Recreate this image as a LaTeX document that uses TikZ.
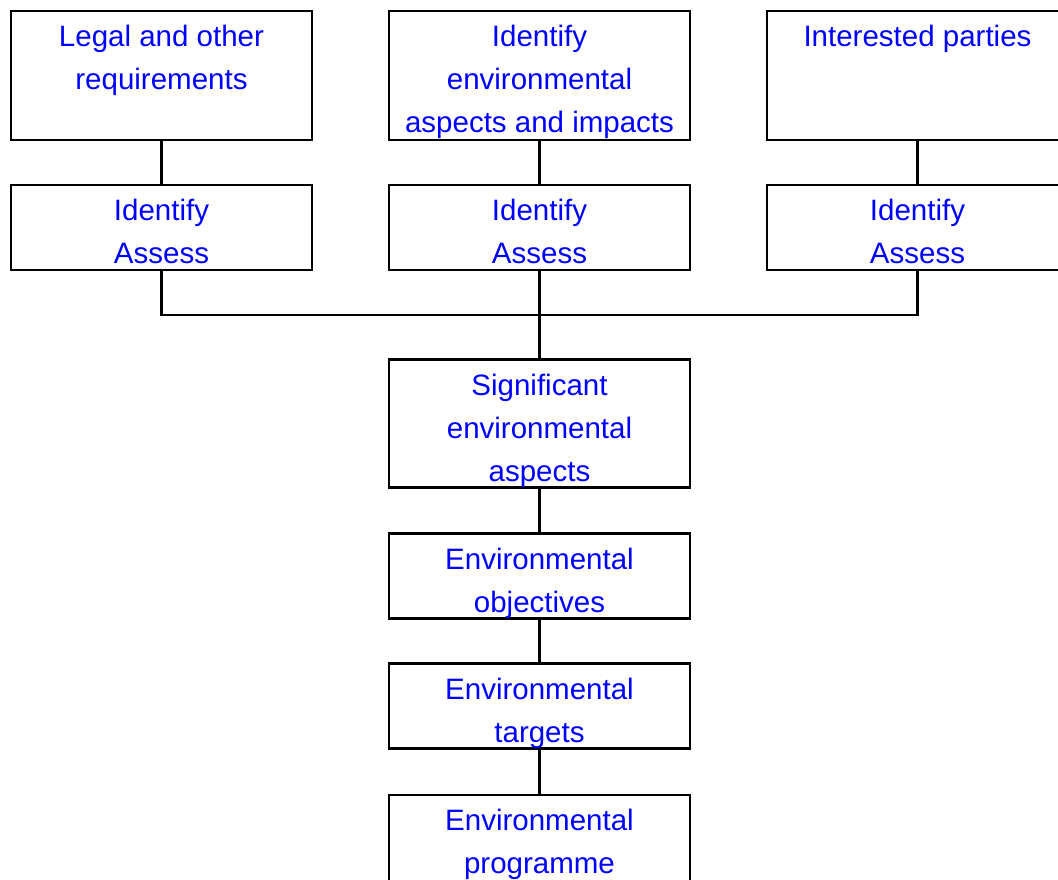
\documentclass[tikz,border=0pt]{standalone}
\usepackage{fontspec}
\setmainfont{Liberation Sans}
\tikzset{
    box/.style = {draw, line width=2.4pt, minimum width=301pt, inner sep=0},
    txt/.style = {anchor=north, align=center, text=blue, inner sep=0, yshift=-14.5pt,
                  font=\fontsize{29.5}{43}\selectfont},
}
\begin{document}
\begin{tikzpicture}[x=1pt, y=-1pt, line width=2.4pt]
                \useasboundingbox (0,0) rectangle (1058,879);
                % top row
                \node[box, minimum height=129pt] (legal) at (161.5,75.5) {};
                \node[box, minimum height=129pt] (aspects) at (539.5,75.5) {};
                \node[box, minimum height=129pt] (parties) at (917.5,75.5) {};
                \node[txt] (legaltxt) at (legal.north) {Legal and other\\requirements};
                \node[txt] (aspectstxt) at (aspects.north) {Identify\\environmental\\aspects and impacts};
                \node[txt] (partiestxt) at (parties.north) {Interested parties};
                % identify / assess
                \node[box, minimum height=85pt] (legalid) at (161.5,227.5) {};
                \node[box, minimum height=85pt] (aspectsid) at (539.5,227.5) {};
                \node[box, minimum height=85pt] (partiesid) at (917.5,227.5) {};
                \node[txt] (legalidtxt) at (legalid.north) {Identify\\Assess};
                \node[txt] (aspectsidtxt) at (aspectsid.north) {Identify\\Assess};
                \node[txt] (partiesidtxt) at (partiesid.north) {Identify\\Assess};
                % chain
                \node[box, minimum height=128pt] (sig) at (539.5,423.5) {};
                \node[box, minimum height=85pt] (obj) at (539.5,576) {};
                \node[box, minimum height=85pt] (targets) at (539.5,706) {};
                \node[box, minimum height=128pt] (prog) at (539.5,859) {};
                \node[txt] (sigtxt) at (sig.north) {Significant\\environmental\\aspects};
                \node[txt] (objtxt) at (obj.north) {Environmental\\objectives};
                \node[txt] (targetstxt) at (targets.north) {Environmental\\targets};
                \node[txt] (progtxt) at (prog.north) {Environmental\\programme};
                % connectors
                \coordinate (bus) at (539.5,315);
                \draw (legal) -- (legalid);
                \draw (aspects) -- (aspectsid);
                \draw (parties) -- (partiesid);
                \draw (legalid.south) |- (bus) -| (partiesid.south);
                \draw (aspectsid) -- (sig);
                \draw (sig) -- (obj);
                \draw (obj) -- (targets);
                \draw (targets) -- (prog);
\end{tikzpicture}
\end{document}
